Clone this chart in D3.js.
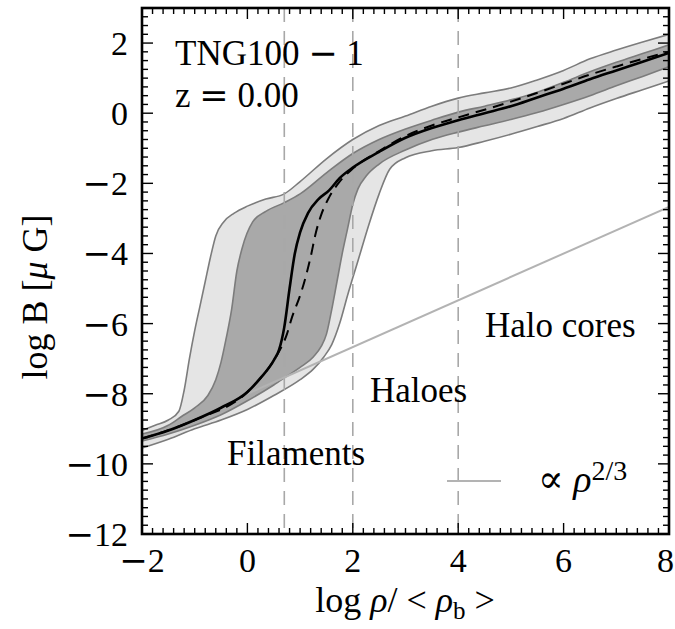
<!DOCTYPE html>
<html>
<head>
<meta charset="utf-8">
<script src="https://cdn.jsdelivr.net/npm/d3@7"></script>
<style>
  html, body { margin: 0; padding: 0; background: #fff; }
  svg text { font-family: "Liberation Serif", "Times New Roman", serif; fill: #000; }
  .mn { font-family: "DejaVu Serif", serif; }
</style>
</head>
<body>
<svg id="chart" width="675" height="629"></svg>
<script>
// ---- data: log B [muG] versus log overdensity, TNG100-1 at z = 0 ----
// median
const medianX = [-2, -1.5, -1, -0.5, 0, 0.25, 0.5, 0.6, 0.7, 0.8, 0.9, 1.0, 1.15, 1.35, 1.55, 1.75, 2, 2.5, 3, 3.5, 4, 4.5, 5, 5.5, 6, 6.5, 7, 7.5, 8];
const medianY = [-9.28, -9.05, -8.75, -8.4, -7.95, -7.55, -7.05, -6.75, -6.1, -5.0, -4.0, -3.4, -2.85, -2.45, -2.2, -1.85, -1.55, -1.1, -0.7, -0.42, -0.2, 0.0, 0.2, 0.45, 0.7, 0.97, 1.22, 1.47, 1.72];
// mean
const meanX = [-2, -1, 0, 0.5, 0.6, 0.75, 0.85, 1.0, 1.1, 1.2, 1.3, 1.4, 1.55, 1.75, 2, 2.5, 3, 3.5, 4, 4.5, 5, 5.5, 6, 6.5, 7, 7.5, 8];
const meanY = [-9.28, -8.75, -7.95, -7.05, -6.8, -6.3, -5.8, -5.2, -4.7, -4.1, -3.4, -2.9, -2.4, -1.95, -1.58, -1.08, -0.65, -0.35, -0.12, 0.1, 0.33, 0.58, 0.84, 1.1, 1.33, 1.55, 1.75];
// outer percentile envelope, upper edge
const outerUpX = [-2, -1.75, -1.5, -1.3, -1.2, -1.1, -1.0, -0.9, -0.8, -0.7, -0.6, -0.45, -0.25, 0, 0.35, 0.7, 1.0, 1.5, 2.0, 2.5, 3, 3.5, 4, 4.5, 5, 5.5, 6, 6.5, 7, 7.5, 8];
const outerUpY = [-9.05, -8.9, -8.75, -8.5, -7.9, -7.0, -6.2, -5.5, -4.8, -4.1, -3.5, -3.1, -2.85, -2.65, -2.45, -2.3, -1.95, -1.3, -0.75, -0.35, -0.08, 0.2, 0.43, 0.58, 0.72, 0.95, 1.22, 1.55, 1.8, 2.03, 2.25];
// inner percentile envelope, upper edge
const innerUpX = [-2, -1.5, -1.25, -1.0, -0.75, -0.6, -0.5, -0.4, -0.3, -0.2, -0.1, 0.1, 0.35, 0.7, 1.0, 1.5, 2.0, 2.5, 3, 3.5, 4, 4.5, 5, 5.5, 6, 6.5, 7, 7.5, 8];
const innerUpY = [-9.15, -8.9, -8.65, -8.4, -8.05, -7.6, -7.1, -6.4, -5.6, -4.5, -3.85, -3.1, -2.8, -2.55, -2.3, -1.7, -1.15, -0.75, -0.45, -0.2, 0.03, 0.2, 0.38, 0.6, 0.88, 1.18, 1.45, 1.7, 1.95];
// inner percentile envelope, lower edge
const innerLoX = [-2, -1.5, -1, -0.5, 0, 0.5, 0.75, 1.0, 1.25, 1.4, 1.5, 1.6, 1.7, 1.8, 1.9, 2.0, 2.1, 2.25, 2.5, 3.0, 3.5, 4, 4.5, 5, 5.5, 6, 6.5, 7, 7.5, 8];
const innerLoY = [-9.35, -9.15, -8.9, -8.6, -8.2, -7.75, -7.5, -7.25, -6.95, -6.65, -6.3, -5.6, -4.8, -4.0, -3.3, -2.6, -2.15, -1.8, -1.45, -1.05, -0.75, -0.54, -0.36, -0.18, 0.02, 0.25, 0.5, 0.78, 1.05, 1.33];
// outer percentile envelope, lower edge
const outerLoX = [-2, -1.5, -1, -0.5, 0, 0.5, 1.0, 1.25, 1.45, 1.6, 1.75, 1.9, 2.1, 2.3, 2.5, 2.7, 3.0, 3.5, 4, 4.5, 5, 5.5, 6, 6.5, 7, 7.5, 8];
const outerLoY = [-9.55, -9.3, -9.0, -8.75, -8.45, -8.05, -7.6, -7.3, -6.95, -6.6, -6.0, -5.2, -4.2, -3.2, -2.3, -1.6, -1.27, -1.07, -0.98, -0.8, -0.6, -0.38, -0.15, 0.15, 0.42, 0.67, 0.92];
// reference power law B ~ rho^(2/3)
const powerLawX = [0, 8];
const powerLawY = [-8.0, -2.67];
// density thresholds separating the regimes
const thresholds = [0.7, 2, 4];
// axis ticks
const xTicks = [-2, 0, 2, 4, 6, 8];
const yTicks = [-12, -10, -8, -6, -4, -2, 0, 2];
const xDomain = [-2, 8];
const yDomain = [-12, 3];

// ---- layout ----
const svg = d3.select("#chart");
const L = 142, R = 669, T = 8, B = 534;
const x = d3.scaleLinear().domain(xDomain).range([L, R]);
const y = d3.scaleLinear().domain(yDomain).range([B, T]);

const zip = (xs, ys) => xs.map((v, i) => [v, ys[i]]);
const line = d3.line().x(d => x(d[0])).y(d => y(d[1])).curve(d3.curveMonotoneX);

function bandPath(up, lo) {
  const a = line(up);
  const b = line(lo.slice().reverse());
  return a + "L" + b.slice(1) + "Z";
}

const outerUp = zip(outerUpX, outerUpY), outerLo = zip(outerLoX, outerLoY);
const innerUp = zip(innerUpX, innerUpY), innerLo = zip(innerLoX, innerLoY);

svg.append("defs").append("clipPath").attr("id", "clip")
  .append("rect").attr("x", L).attr("y", T).attr("width", R - L).attr("height", B - T);
const plot = svg.append("g").attr("clip-path", "url(#clip)");

// bands
plot.append("path").attr("d", bandPath(outerUp, outerLo)).attr("fill", "#e5e5e5");
plot.append("path").attr("d", bandPath(innerUp, innerLo)).attr("fill", "#a9a9a9");
[outerUp, outerLo, innerUp, innerLo].forEach(pts => {
  plot.append("path").attr("d", line(pts)).attr("fill", "none")
    .attr("stroke", "#7c7c7c").attr("stroke-width", 1.6);
});

// regime boundaries
plot.selectAll("line.thr").data(thresholds).enter().append("line")
  .attr("x1", d => x(d)).attr("x2", d => x(d)).attr("y1", T).attr("y2", B)
  .attr("stroke", "#a8a8a8").attr("stroke-width", 1.6).attr("stroke-dasharray", "14,9");

// power law
plot.append("path").attr("d", d3.line().x(d => x(d[0])).y(d => y(d[1]))(zip(powerLawX, powerLawY)))
  .attr("fill", "none").attr("stroke", "#b3b3b3").attr("stroke-width", 2);

// median and mean
plot.append("path").attr("d", line(zip(medianX, medianY))).attr("fill", "none")
  .attr("stroke", "#000").attr("stroke-width", 2.6);
plot.append("path").attr("d", line(zip(meanX, meanY))).attr("fill", "none")
  .attr("stroke", "#000").attr("stroke-width", 2).attr("stroke-dasharray", "11,7");

// ---- frame and ticks ----
const frame = svg.append("g").attr("stroke", "#000").attr("fill", "none");
const majL = 11, minL = 6;
d3.range(-2, 8.0001, 0.2).forEach(v => {
  const isMaj = Math.abs(v / 2 - Math.round(v / 2)) < 1e-6;
  const len = isMaj ? majL : minL;
  frame.append("line").attr("x1", x(v)).attr("x2", x(v)).attr("y1", B).attr("y2", B - len).attr("stroke-width", 1.4);
  frame.append("line").attr("x1", x(v)).attr("x2", x(v)).attr("y1", T).attr("y2", T + len).attr("stroke-width", 1.4);
});
d3.range(-12, 3.0001, 0.25).forEach(v => {
  const isMaj = Math.abs(v / 2 - Math.round(v / 2)) < 1e-6;
  const len = isMaj ? majL : minL;
  frame.append("line").attr("y1", y(v)).attr("y2", y(v)).attr("x1", L).attr("x2", L + len).attr("stroke-width", 1.4);
  frame.append("line").attr("y1", y(v)).attr("y2", y(v)).attr("x1", R).attr("x2", R - len).attr("stroke-width", 1.4);
});
frame.append("rect").attr("x", L).attr("y", T).attr("width", R - L).attr("height", B - T).attr("stroke-width", 2.6);

// tick labels: a wide math minus followed by the digits
function tickLabel(sel) {
  sel.each(function (d) {
    const t = d3.select(this);
    if (d < 0) t.append("tspan").attr("class", "mn").text("\u2212");
    t.append("tspan").text(Math.abs(d));
  });
}
svg.selectAll("text.xt").data(xTicks).enter().append("text")
  .attr("x", d => d === 8 ? 674 : x(d)).attr("y", 572)
  .attr("text-anchor", d => d === 8 ? "end" : "middle")
  .attr("font-size", 34).call(tickLabel);
svg.selectAll("text.yt").data(yTicks).enter().append("text")
  .attr("x", 128).attr("y", d => y(d) + 12).attr("text-anchor", "end")
  .attr("font-size", 34).call(tickLabel);

// axis titles
const xt = svg.append("text").attr("x", 405).attr("y", 612).attr("text-anchor", "middle").attr("font-size", 36);
xt.append("tspan").text("log ");
xt.append("tspan").attr("font-style", "italic").text("\u03c1");
xt.append("tspan").text("/ < ");
xt.append("tspan").attr("font-style", "italic").text("\u03c1");
xt.append("tspan").attr("font-size", 25).attr("dy", 7).text("b");
xt.append("tspan").attr("dy", -7).text(" >");

const yt = svg.append("text").attr("transform", "translate(47,297) rotate(-90)")
  .attr("text-anchor", "middle").attr("font-size", 36);
yt.append("tspan").text("log B [");
yt.append("tspan").attr("font-style", "italic").text("\u03bc");
yt.append("tspan").text(" G]");

// annotations
const ann = svg.append("g").attr("font-size", 35);
const tng = ann.append("text").attr("x", 175).attr("y", 65);
tng.append("tspan").text("TNG100 ");
tng.append("tspan").attr("class", "mn").text("\u2212");
tng.append("tspan").text(" 1");
const zt = ann.append("text").attr("x", 175).attr("y", 107);
zt.append("tspan").text("z ");
zt.append("tspan").attr("class", "mn").text("=");
zt.append("tspan").text(" 0.00");
ann.append("text").attr("x", 227).attr("y", 465).text("Filaments");
ann.append("text").attr("x", 370).attr("y", 402).text("Haloes");
ann.append("text").attr("x", 485).attr("y", 337).text("Halo cores");

// legend entry for the power law
svg.append("line").attr("x1", 447).attr("x2", 501).attr("y1", 481).attr("y2", 481)
  .attr("stroke", "#b3b3b3").attr("stroke-width", 2);
const lg = svg.append("text").attr("x", 538).attr("y", 492).attr("font-size", 38);
lg.append("tspan").attr("class", "mn").text("\u221d");
lg.append("tspan").text(" ");
lg.append("tspan").attr("font-style", "italic").text("\u03c1");
lg.append("tspan").attr("font-size", 28).attr("dy", -12).text("2/3");
</script>
</body>
</html>
